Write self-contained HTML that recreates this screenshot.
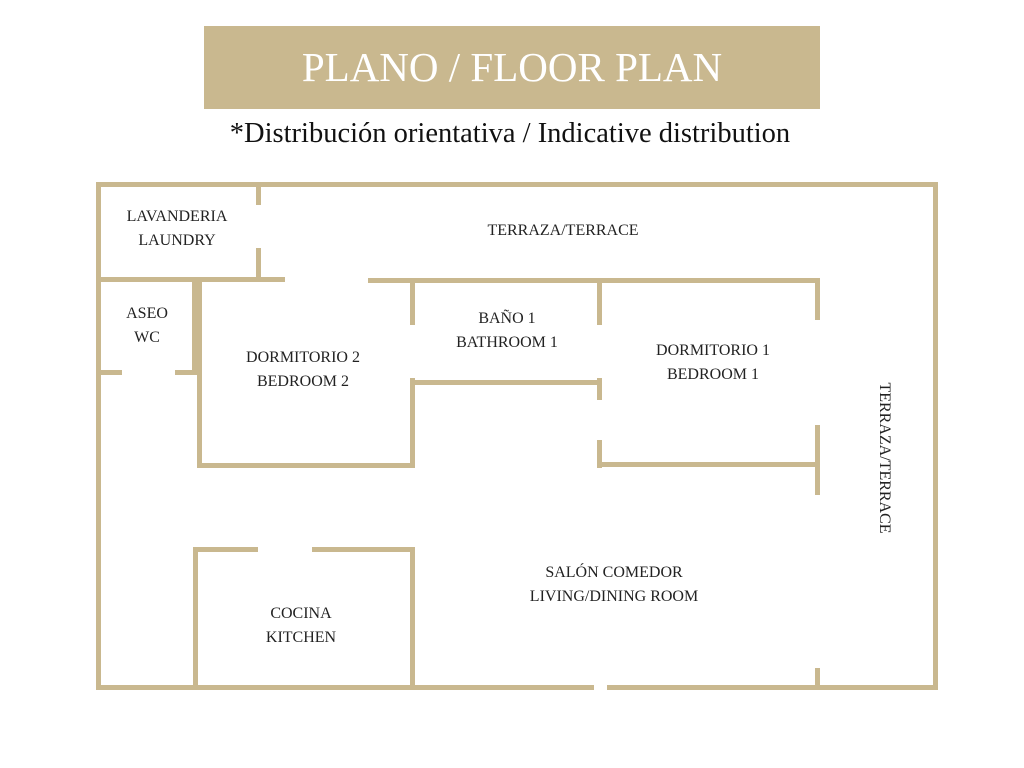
<!DOCTYPE html>
<html><head><meta charset="utf-8"><style>
body{margin:0;width:1024px;height:768px;background:#fff;position:relative;overflow:hidden;font-family:"Liberation Serif",serif}
.w{position:absolute;background:#c9b88f}
.t{position:absolute;color:#222;font-size:16px;text-align:center;line-height:24px;transform:translateX(-50%);white-space:nowrap}
</style></head><body>
<div style="position:absolute;left:204px;top:26px;width:616px;height:83px;background:#c9b88f;color:#fff;font-size:41px;text-align:center;line-height:83px">PLANO / FLOOR PLAN</div>
<div style="position:absolute;left:0;width:1020px;top:118px;text-align:center;font-size:28.5px;color:#111">*Distribución orientativa / Indicative distribution</div>
<!-- outer -->
<div class="w" style="left:96px;top:182px;width:842px;height:5px"></div>
<div class="w" style="left:96px;top:182px;width:5px;height:508px"></div>
<div class="w" style="left:933px;top:182px;width:5px;height:508px"></div>
<div class="w" style="left:96px;top:685px;width:498px;height:5px"></div>
<div class="w" style="left:607px;top:685px;width:331px;height:5px"></div>
<!-- laundry -->
<div class="w" style="left:256px;top:182px;width:5px;height:23px"></div>
<div class="w" style="left:256px;top:248px;width:5px;height:32px"></div>
<div class="w" style="left:96px;top:277px;width:189px;height:5px"></div>
<div class="w" style="left:368px;top:278px;width:452px;height:5px"></div>
<!-- aseo -->
<div class="w" style="left:192px;top:280px;width:6px;height:95px"></div>
<div class="w" style="left:96px;top:370px;width:26px;height:5px"></div>
<div class="w" style="left:175px;top:370px;width:22px;height:5px"></div>
<!-- bedroom 2 -->
<div class="w" style="left:197px;top:280px;width:5px;height:188px"></div>
<div class="w" style="left:197px;top:463px;width:218px;height:5px"></div>
<div class="w" style="left:410px;top:278px;width:5px;height:47px"></div>
<div class="w" style="left:410px;top:378px;width:5px;height:90px"></div>
<!-- bath 1 -->
<div class="w" style="left:410px;top:380px;width:192px;height:5px"></div>
<div class="w" style="left:597px;top:278px;width:5px;height:47px"></div>
<div class="w" style="left:597px;top:378px;width:5px;height:22px"></div>
<!-- bedroom 1 -->
<div class="w" style="left:597px;top:440px;width:5px;height:28px"></div>
<div class="w" style="left:597px;top:462px;width:223px;height:5px"></div>
<div class="w" style="left:815px;top:278px;width:5px;height:42px"></div>
<div class="w" style="left:815px;top:425px;width:5px;height:70px"></div>
<div class="w" style="left:815px;top:668px;width:5px;height:22px"></div>
<!-- kitchen -->
<div class="w" style="left:193px;top:547px;width:65px;height:5px"></div>
<div class="w" style="left:312px;top:547px;width:103px;height:5px"></div>
<div class="w" style="left:193px;top:547px;width:5px;height:143px"></div>
<div class="w" style="left:410px;top:547px;width:5px;height:143px"></div>
<!-- labels -->
<div class="t" style="left:177px;top:205px">LAVANDERIA<br>LAUNDRY</div>
<div class="t" style="left:563px;top:219px">TERRAZA/TERRACE</div>
<div class="t" style="left:147px;top:302px">ASEO<br>WC</div>
<div class="t" style="left:303px;top:346px">DORMITORIO 2<br>BEDROOM 2</div>
<div class="t" style="left:507px;top:307px">BAÑO 1<br>BATHROOM 1</div>
<div class="t" style="left:713px;top:339px">DORMITORIO 1<br>BEDROOM 1</div>
<div class="t" style="left:614px;top:561px">SALÓN COMEDOR<br>LIVING/DINING ROOM</div>
<div class="t" style="left:301px;top:602px">COCINA<br>KITCHEN</div>
<div style="position:absolute;left:884px;top:458px;transform:translate(-50%,-50%) rotate(90deg);font-size:16px;color:#222;white-space:nowrap">TERRAZA/TERRACE</div>
</body></html>
